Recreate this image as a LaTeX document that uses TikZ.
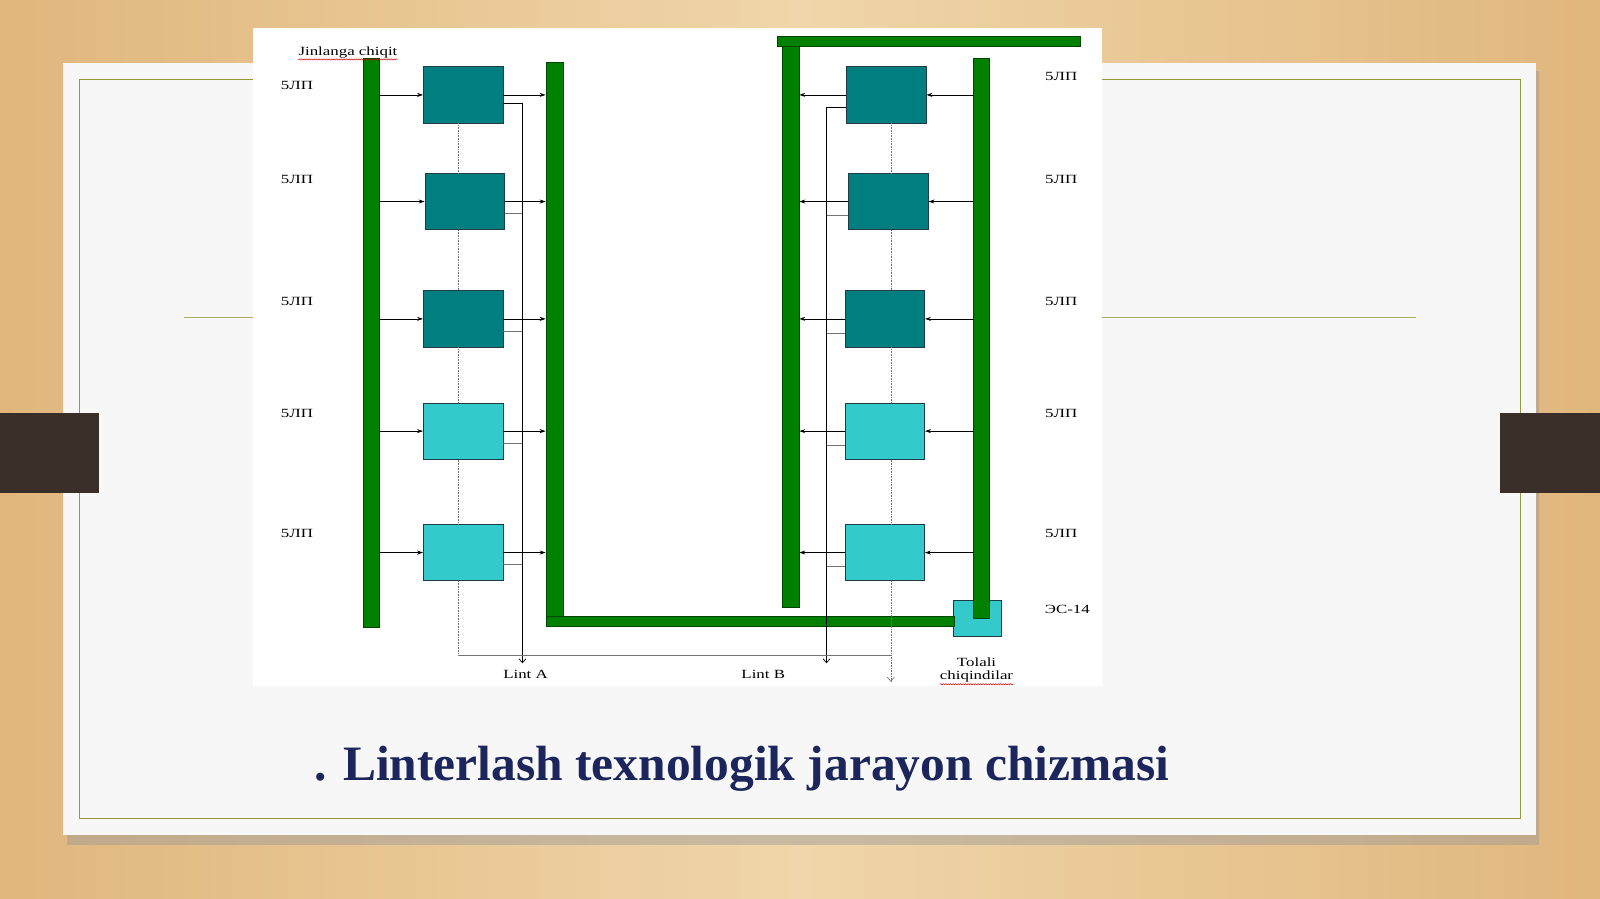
\documentclass[tikz,border=0pt]{standalone}
\usepackage{fontspec}
\setmainfont{Liberation Serif}
\newfontfamily\widefont[FakeStretch=1.35]{Liberation Serif}
\usetikzlibrary{arrows.meta,decorations.pathmorphing}
\definecolor{woodlight}{RGB}{240,214,170}
\definecolor{wooddark}{RGB}{224,182,124}
\definecolor{frameline}{RGB}{150,150,60}
\definecolor{tabbrown}{RGB}{58,46,40}
\definecolor{bargreen}{RGB}{0,128,0}
\definecolor{bardark}{RGB}{0,70,0}
\definecolor{tealdark}{RGB}{0,126,128}
\definecolor{teallight}{RGB}{52,202,204}
\definecolor{boxedge}{RGB}{30,60,70}
\definecolor{titleblue}{RGB}{28,38,92}
\begin{document}
\begin{tikzpicture}[x=1.0204pt,y=-1.0204pt]
\tikzstyle{bar}=[draw=bardark,fill=bargreen,inner sep=0pt,line width=0.6pt]
\tikzstyle{unit}=[draw=boxedge,line width=0.8pt,inner sep=0pt,minimum width=79.6pt,minimum height=56.1pt]
\tikzstyle{arr}=[-{Stealth[length=6pt,width=4pt]},line width=0.7pt]
\tikzstyle{outlet}=[-{Straight Barb[length=4pt,width=7pt]},line width=0.7pt]
\tikzstyle{stub}=[line width=0.6pt,black!55]
\tikzstyle{gdot}=[line width=0.6pt,black!55,densely dotted]
\tikzstyle{lbl}=[font=\widefont\fontsize{12.5}{13}\selectfont,inner sep=0pt]
\tikzstyle{wavy}=[red!80!black,line width=0.5pt,decorate,decoration={snake,amplitude=0.6pt,segment length=2.5pt}]
\useasboundingbox (0,0) rectangle (1568,881);
% slide background
\shade[left color=wooddark,right color=wooddark,middle color=woodlight] (0,0) rectangle (1568,881);
\fill[black!40,opacity=0.45] (66,70) rectangle (1508,828);
\fill[white!97!black] (62,62) rectangle (1505,818);
\draw[frameline,line width=1.5pt] (78,78) rectangle (1490,802);
\draw[frameline!80,line width=1.5pt] (180,311) -- (1388,311);
\fill[tabbrown] (0,405) rectangle (97,483);
\fill[tabbrown] (1470,405) rectangle (1568,483);
\fill[white] (248,27) rectangle (1080,672);
% boxes
\foreach \n/\x/\y/\c in {1/454/93/tealdark,2/455.5/197.5/tealdark,3/454/312.5/tealdark,4/454/422.5/teallight,5/454/541.5/teallight}
  \node[unit,fill=\c] (L\n) at (\x,\y) {};
\foreach \n/\x/\y/\c in {1/868.5/93/tealdark,2/870.5/197.5/tealdark,3/867/312.5/tealdark,4/867/422.5/teallight,5/867/541.5/teallight}
  \node[unit,fill=\c] (R\n) at (\x,\y) {};
\node[unit,fill=teallight,minimum width=48pt,minimum height=36.7pt] (ES) at (957.5,606) {};
% bars
\node[bar,minimum width=16.3pt,minimum height=569.4pt] (BL) at (364,336) {};
\node[bar,minimum width=17.3pt,minimum height=557pt] (BM) at (543.5,334) {};
\node[bar,minimum width=408pt,minimum height=10.2pt] (BB) at (735,609) {};
\node[bar,minimum width=16.3pt,minimum height=566pt] (BR) at (775,317.5) {};
\node[bar,minimum width=303pt,minimum height=9.2pt] (BT) at (910.5,40.5) {};
\node[bar,minimum width=16.3pt,minimum height=560pt] (BE) at (962,331.5) {};
% outlets
\coordinate (la) at (512,650);
\coordinate (lb) at (810,650);
\coordinate (ga) at (449,642);
\coordinate (gb) at (873,642);
\coordinate (ge) at (873,668);
\foreach \n in {1,...,5}{
  \draw[arr] (L\n.west -| BL.east) -- (L\n.west);
  \draw[arr] (L\n.east) -- (L\n.east -| BM.west);
  \draw[arr] (R\n.east -| BE.west) -- (R\n.east);
  \draw[arr] (R\n.west) -- (R\n.west -| BR.east);
}
\draw[outlet] ([yshift=-8pt]L1.east) -| (la);
\draw[outlet] ([yshift=-12pt]R1.west) -| (lb);
\foreach \n in {2,...,5}{
  \draw[stub] ([yshift=-12pt]L\n.east) -- ([yshift=-12pt]L\n.east -| la);
  \draw[stub] ([yshift=-14pt]R\n.west) -- ([yshift=-14pt]R\n.west -| lb);
}
\foreach \a/\b in {1/2,2/3,3/4,4/5}{
  \draw[gdot] (L\a.south -| ga) -- (L\b.north -| ga);
  \draw[gdot] (R\a.south -| gb) -- (R\b.north -| gb);
}
\draw[gdot] (L5.south -| ga) -- (ga);
\draw[stub] (ga) -- (gb);
\draw[gdot] (R5.south -| gb) -- (gb);
\draw[gdot,-{Straight Barb[length=4pt,width=7pt]}] (gb) -- (ge);
% labels
\foreach \n/\y in {1/84,2/176,3/295,4/405,5/523}
  \node[lbl] (sl\n) at (291,\y) {5ЛП};
\foreach \n/\y in {1/75,2/176,3/295,4/405,5/523}
  \node[lbl] (sr\n) at (1040,\y) {5ЛП};
\node[lbl] (es) at (1046,597) {ЭС-14};
\node[lbl] (jc) at (341,51) {Jinlanga chiqit};
\draw[wavy] ([yshift=-1.5pt]jc.south west) -- ([yshift=-1.5pt]jc.south east);
\node[lbl] (lA) at (515,661) {Lint A};
\node[lbl] (lB) at (748,661) {Lint B};
\node[lbl,align=center] (tc) at (957,657) {Tolali\\chiqindilar};
\draw[wavy] ([yshift=-1.5pt]tc.south west) -- ([yshift=-1.5pt]tc.south east);
% title
\node[font=\fontsize{49.5}{55}\selectfont\bfseries,text=titleblue] (tt) at (727,753) {. Linterlash texnologik jarayon chizmasi};
\end{tikzpicture}
\end{document}
